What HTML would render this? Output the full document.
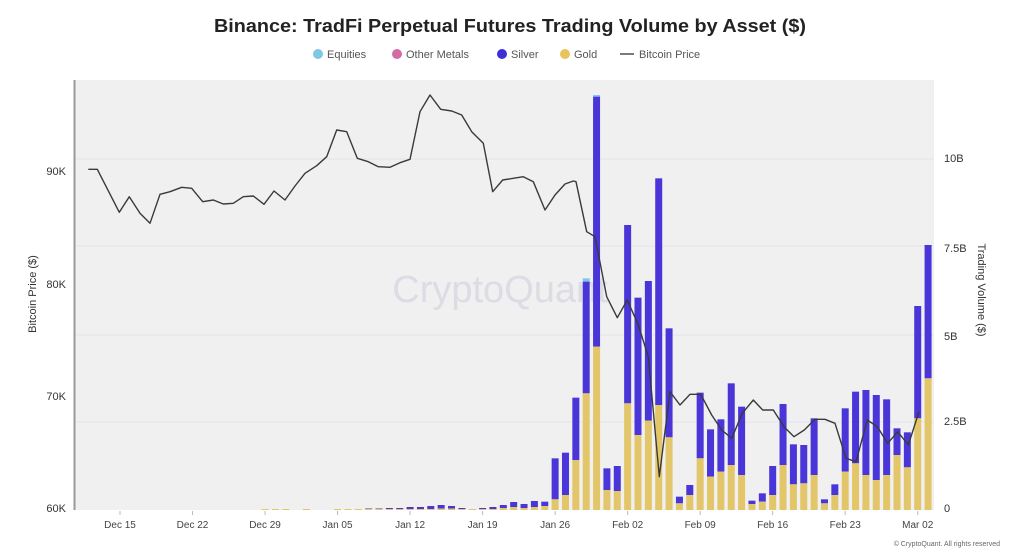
<!DOCTYPE html>
<html><head><meta charset="utf-8"><style>
html,body{margin:0;padding:0;background:#fff;}
svg{display:block;font-family:"Liberation Sans",sans-serif;}
</style></head><body>
<svg id="s" width="1024" height="558" viewBox="0 0 1024 558" xmlns="http://www.w3.org/2000/svg">
<rect width="1024" height="558" fill="#fff"/>
<rect x="74" y="80" width="860" height="430" fill="#f0f0f0"/>
<g stroke="#e4e2ea" stroke-width="1">
<line x1="74" x2="934" y1="159" y2="159"/><line x1="74" x2="934" y1="246" y2="246"/>
<line x1="74" x2="934" y1="335" y2="335"/><line x1="74" x2="934" y1="422" y2="422"/>
</g>
<text x="500" y="302" font-size="38" fill="#dcdce4" text-anchor="middle">CryptoQuant</text>
<line x1="74.5" y1="80" x2="74.5" y2="510" stroke="#999" stroke-width="2"/>
<g id="bars"></g>
<polyline id="ln" fill="none" stroke="#3a3a3a" stroke-width="1.4" stroke-linejoin="round"/>
<text x="510" y="32" font-size="18" font-weight="bold" text-anchor="middle" fill="#222" textLength="592" lengthAdjust="spacingAndGlyphs">Binance: TradFi Perpetual Futures Trading Volume by Asset ($)</text>
<g font-size="11" fill="#555">
<circle cx="318" cy="54" r="5" fill="#7ec8e3"/><text x="327" y="58">Equities</text>
<circle cx="397" cy="54" r="5" fill="#d46aa6"/><text x="406" y="58">Other Metals</text>
<circle cx="502" cy="54" r="5" fill="#3f2fd9"/><text x="511" y="58">Silver</text>
<circle cx="565" cy="54" r="5" fill="#e8c45a"/><text x="574" y="58">Gold</text>
<line x1="620" y1="54" x2="634" y2="54" stroke="#333" stroke-width="1.3"/><text x="639" y="58">Bitcoin Price</text>
</g>
<g font-size="11" fill="#333" text-anchor="end">
<text x="66" y="175">90K</text><text x="66" y="288">80K</text><text x="66" y="400">70K</text><text x="66" y="512">60K</text>
</g>
<g font-size="11" fill="#333">
<text x="944" y="162">10B</text><text x="944" y="252">7.5B</text><text x="944" y="340">5B</text><text x="944" y="425">2.5B</text><text x="944" y="512">0</text>
</g>
<text transform="translate(36,294) rotate(-90)" font-size="11" fill="#333" text-anchor="middle">Bitcoin Price ($)</text>
<text transform="translate(978,290) rotate(90)" font-size="11" fill="#333" text-anchor="middle">Trading Volume ($)</text>
<g id="xl" font-size="10" fill="#444" text-anchor="middle"></g>
<text x="1000" y="546" font-size="7" fill="#666" text-anchor="end">© CryptoQuant. All rights reserved</text>
</svg>
<script>
var NS="http://www.w3.org/2000/svg";
function el(t,a,p){var e=document.createElementNS(NS,t);for(var k in a)e.setAttribute(k,a[k]);p.appendChild(e);return e;}
var bars=document.getElementById('bars');
var x0=120,dx=10.36;
var small=[[14,1,1],[15,1,1],[16,1,1],[18,1,1],[21,1,1],[22,1,1],[23,1,1],[24,1.5,1],[25,1.5,1],[26,2,1],[27,2,1],[28,3,1],[29,3,1],[30,4,1],[31,5,1.5],[32,4,1.5],[33,2,1],[34,1,1],[35,2,1],[36,3,1],[37,5,2],[38,8,3],[39,6,2],[40,9,3]];
small.forEach(function(b){var x=x0+b[0]*dx-3.5;
 el('rect',{x:x,y:510-b[1],width:7,height:b[1]-b[2],fill:'#4a35d8'},bars);
 el('rect',{x:x,y:510-b[2],width:7,height:b[2],fill:'#e3c56a'},bars);});
var big=[[1265,1278],[1135,1258],[1118,1245],[953,1140],[605,940,595],[50,800,45],[1165,1230],[1158,1233],[435,970],[653,1065],[603,1022],[295,975],[745,1072],[1250,1270],[1215,1245],[938,1135],[1048,1190],[1018,1175],[910,1155],[980,1185],[1262,1272],[1240,1265],[1158,1245],[972,1155],[1093,1213],[1095,1210],[1015,1185],[1258,1270],[1213,1245],[985,1175],[935,1150],[930,1185],[945,1200],[958,1185],[1045,1125],[1057,1162],[678,1015],[495,895]];
big.forEach(function(b,i){var x=x0+(41+i)*dx-3.5;var t=80+b[0]/3,g=80+b[1]/3;
 if(b[2])el('rect',{x:x,y:80+b[2]/3,width:7,height:(b[0]-b[2])/3,fill:'#7ec8e3'},bars);
 el('rect',{x:x,y:t,width:7,height:g-t,fill:'#4a35d8'},bars);
 el('rect',{x:x,y:g,width:7,height:510-g,fill:'#e3c56a'},bars);});
var p2=[[55,268],[82,268],[148,397],[178,350],[210,400],[240,430],[270,343],[300,335],[335,322],[365,325],[398,365],[430,360],[460,372],[490,370],[520,350],[550,348],[582,373],[612,333],[645,360],[675,318],[705,280],[740,257],[770,230],[800,150],[830,155],[862,235],[895,245],[925,260],[960,262],[990,248],[1020,238],[1050,95],[1080,45],[1112,88],[1145,93],[1175,105],[1205,155],[1240,190],[1268,335],[1298,300],[1330,295],[1360,290],[1390,305],[1425,390]];
var p1=[[15,390],[45,345],[75,312],[100,303],[108,305],[140,455],[165,470],[200,650],[232,713],[262,660],[295,735],[325,830],[358,1190],[390,935],[420,975],[450,943],[482,943],[515,1005],[545,1050],[575,1075],[607,1000],[640,960],[668,990],[700,990],[732,1040],[762,1070],[793,1050],[825,1018],[855,1018],[885,1030],[918,1135],[948,1145],[982,1020],[1012,1040],[1043,1090],[1073,1055],[1105,1095],[1137,995]];
var pts=[];p2.forEach(function(p){pts.push((70+p[0]/3).toFixed(1)+','+(80+p[1]/3).toFixed(1));});
p1.forEach(function(p){pts.push((540+p[0]/3).toFixed(1)+','+(80+p[1]/3).toFixed(1));});
document.getElementById('ln').setAttribute('points',pts.join(' '));
var xl=document.getElementById('xl');
['Dec 15','Dec 22','Dec 29','Jan 05','Jan 12','Jan 19','Jan 26','Feb 02','Feb 09','Feb 16','Feb 23','Mar 02'].forEach(function(s,i){
 var x=x0+i*7*dx; el('line',{x1:x,x2:x,y1:511,y2:515,stroke:'#bbb'},xl);
 var t=el('text',{x:x,y:528},xl);t.textContent=s;});
</script>
</body></html>
